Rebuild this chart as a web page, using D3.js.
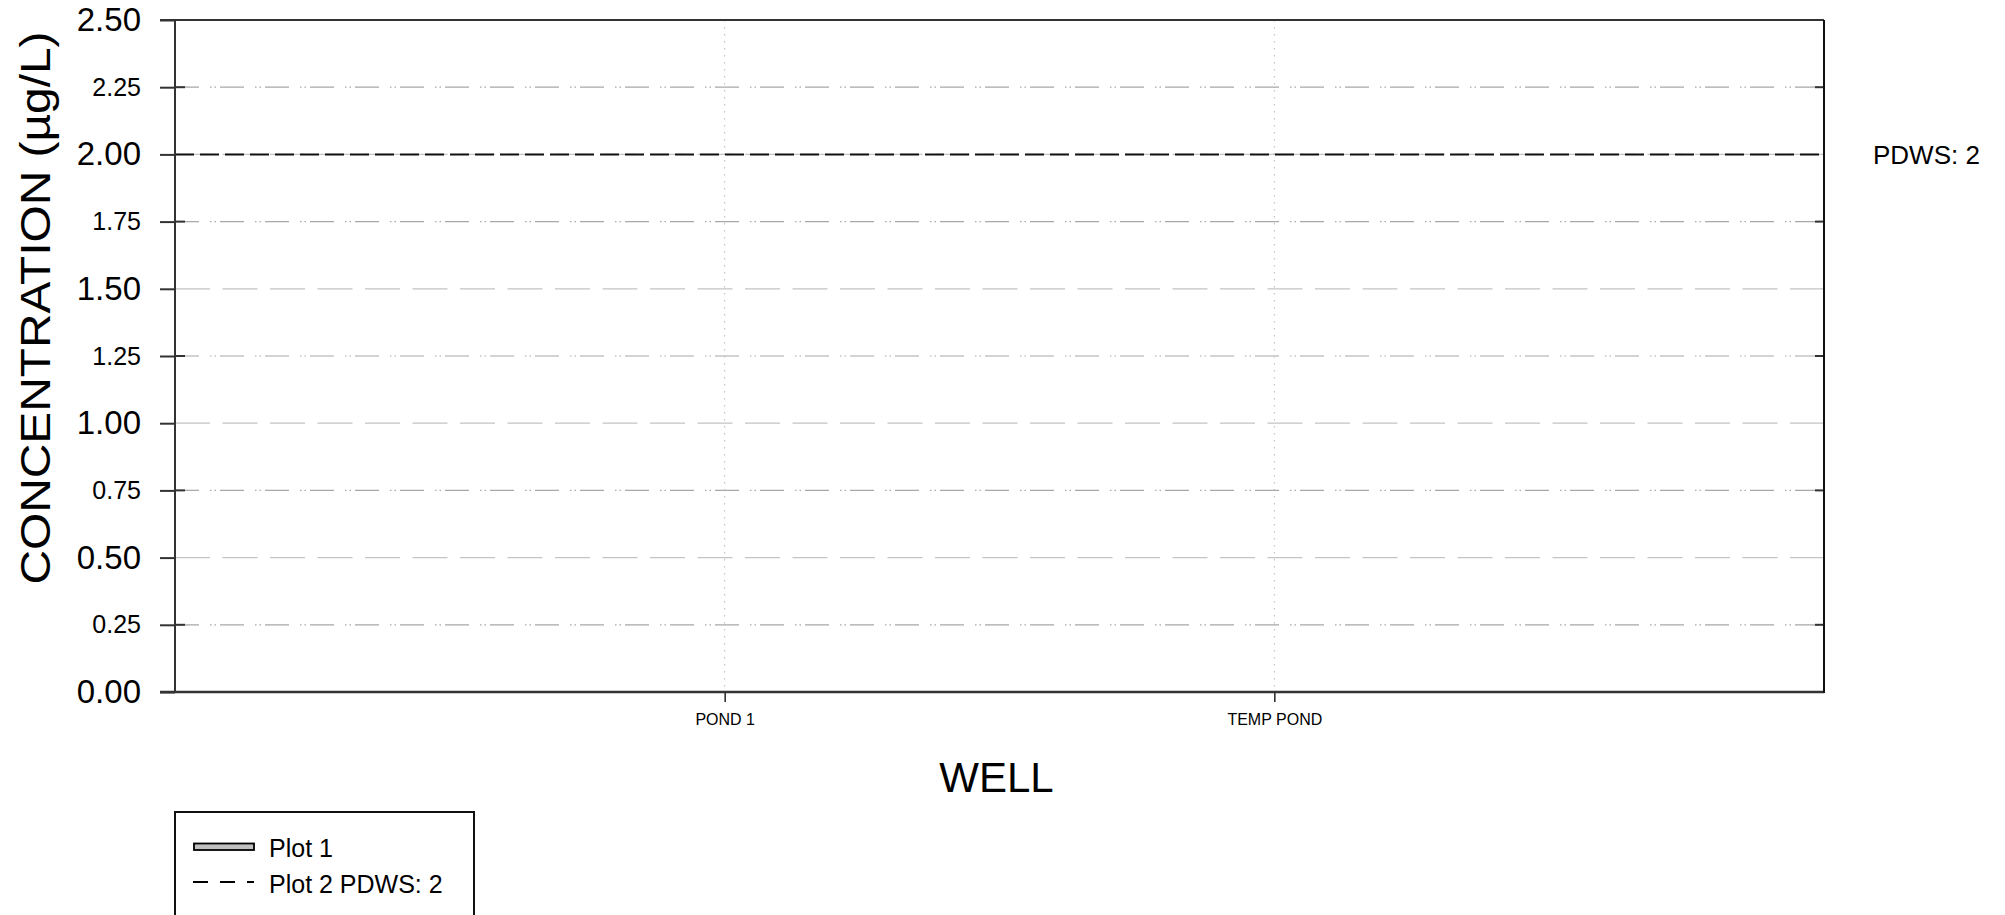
<!DOCTYPE html>
<html>
<head>
<meta charset="utf-8">
<script src="https://cdn.jsdelivr.net/npm/d3@7"></script>
<style>
  html, body { margin: 0; padding: 0; background: #fff; }
  svg { display: block; font-family: "Liberation Sans", Arial, sans-serif; }
</style>
</head>
<body>
<svg id="chart" width="2005" height="915"></svg>
<script>
// ---- data ----
const categories = ["POND 1", "TEMP POND"];
const plot1Values = [0, 0];            // Plot 1 (no visible bars)
const pdwsValue = 2;                   // Plot 2 PDWS: 2
const yTicks = [0, 0.25, 0.5, 0.75, 1.0, 1.25, 1.5, 1.75, 2.0, 2.25, 2.5];
const majorTicks = [0, 0.5, 1.0, 1.5, 2.0, 2.5];
const minorTicks = [0.25, 0.75, 1.25, 1.75, 2.25];
const legendLabels = ["Plot 1", "Plot 2 PDWS: 2"];
const yTitle = "CONCENTRATION (µg/L)";
const xTitle = "WELL";
const pdwsLabel = "PDWS: 2";

// ---- layout ----
const L = 175, R = 1824, T = 20, B = 692;
const svg = d3.select("#chart");
svg.append("rect").attr("width", 2005).attr("height", 915).attr("fill", "#fff");

const y = d3.scaleLinear().domain([0, 2.5]).range([B, T]);
const x = d3.scalePoint().domain(categories).range([L, R]).padding(1);

// major grid
svg.append("g").selectAll("line").data(majorTicks.filter(v => v > 0 && v < 2.5)).join("line")
  .attr("x1", L).attr("x2", R).attr("y1", d => y(d)).attr("y2", d => y(d))
  .attr("stroke", "#c4c4c4").attr("stroke-width", 1.2).attr("stroke-dasharray", "35,12.5");

// minor grid
svg.append("g").selectAll("line").data(minorTicks).join("line")
  .attr("x1", L).attr("x2", R).attr("y1", d => y(d)).attr("y2", d => y(d))
  .attr("stroke", "#a8a8a8").attr("stroke-width", 1.2).attr("stroke-dasharray", "24,11,1.5,3,1.5,4");

// vertical dotted grid at categories
svg.append("g").selectAll("line").data(categories).join("line")
  .attr("x1", d => x(d)).attr("x2", d => x(d)).attr("y1", T).attr("y2", B)
  .attr("stroke", "#b8b8b8").attr("stroke-width", 1).attr("stroke-dasharray", "1.5,5.5");

// Plot 1 bars (zero height)
const bw = 40;
svg.append("g").selectAll("rect").data(categories).join("rect")
  .attr("x", d => x(d) - bw / 2).attr("width", bw)
  .attr("y", (d, i) => y(plot1Values[i])).attr("height", (d, i) => y(0) - y(plot1Values[i]))
  .attr("fill", "#c0c0c0").attr("stroke", "none");

// PDWS line
svg.append("line")
  .attr("x1", L).attr("x2", R).attr("y1", y(pdwsValue)).attr("y2", y(pdwsValue))
  .attr("stroke", "#111").attr("stroke-width", 2).attr("stroke-dasharray", "19,6");

// inner minor ticks left & right
svg.append("g").selectAll("line").data(minorTicks).join("line")
  .attr("x1", L).attr("x2", L + 10).attr("y1", d => y(d)).attr("y2", d => y(d))
  .attr("stroke", "#333").attr("stroke-width", 2);
svg.append("g").selectAll("line").data(minorTicks).join("line")
  .attr("x1", R - 9).attr("x2", R).attr("y1", d => y(d)).attr("y2", d => y(d))
  .attr("stroke", "#333").attr("stroke-width", 2);

// y axis
const yAxis = svg.append("g").attr("transform", `translate(${L},0)`)
  .call(d3.axisLeft(y).tickValues(yTicks).tickSize(15).tickPadding(19).tickFormat(d3.format(".2f")));
yAxis.select(".domain").remove();
yAxis.selectAll(".tick line").attr("stroke", "#333").attr("stroke-width", 2);
yAxis.selectAll(".tick text")
  .attr("fill", "#000")
  .style("font-family", '"Liberation Sans", Arial, sans-serif')
  .style("font-size", d => majorTicks.includes(d) ? "33px" : "25px");

// x axis
const xAxis = svg.append("g").attr("transform", `translate(0,${B})`)
  .call(d3.axisBottom(x).tickSize(10).tickPadding(12));
xAxis.select(".domain").remove();
xAxis.selectAll(".tick line").attr("stroke", "#222").attr("stroke-width", 1.5);
xAxis.selectAll(".tick text").attr("fill", "#000")
  .style("font-family", '"Liberation Sans", Arial, sans-serif').style("font-size", "16px");

// frame
svg.append("line").attr("x1", L - 15).attr("x2", R).attr("y1", T).attr("y2", T).attr("stroke", "#333").attr("stroke-width", 2);
svg.append("line").attr("x1", L - 15).attr("x2", R).attr("y1", B).attr("y2", B).attr("stroke", "#333").attr("stroke-width", 2.5);
svg.append("line").attr("x1", L).attr("x2", L).attr("y1", T).attr("y2", B).attr("stroke", "#333").attr("stroke-width", 2);
svg.append("line").attr("x1", R).attr("x2", R).attr("y1", T).attr("y2", B + 1).attr("stroke", "#111").attr("stroke-width", 2);

// titles
svg.append("text")
  .attr("transform", `translate(50,308) rotate(-90)`)
  .attr("text-anchor", "middle").attr("font-size", 42)
  .attr("textLength", 553).attr("lengthAdjust", "spacingAndGlyphs")
  .attr("fill", "#000").text(yTitle);
svg.append("text").attr("x", (L + R) / 2 - 3).attr("y", 792)
  .attr("text-anchor", "middle").attr("font-size", 42).attr("fill", "#000").text(xTitle);
svg.append("text").attr("x", 1873).attr("y", 164)
  .attr("font-size", 26).attr("fill", "#000").text(pdwsLabel);

// legend
const lg = svg.append("g");
lg.append("rect").attr("x", 175).attr("y", 812).attr("width", 299).attr("height", 140)
  .attr("fill", "#fff").attr("stroke", "#111").attr("stroke-width", 2);
lg.append("rect").attr("x", 194).attr("y", 843.5).attr("width", 60).attr("height", 6.5)
  .attr("fill", "#c0c0c0").attr("stroke", "#000").attr("stroke-width", 1.8);
lg.append("line").attr("x1", 193).attr("x2", 254).attr("y1", 882).attr("y2", 882)
  .attr("stroke", "#000").attr("stroke-width", 1.8).attr("stroke-dasharray", "15,12");
lg.selectAll("text").data(legendLabels).join("text")
  .attr("x", 269).attr("y", (d, i) => 857 + i * 36)
  .attr("font-size", 25).attr("fill", "#000").text(d => d);
</script>
</body>
</html>
